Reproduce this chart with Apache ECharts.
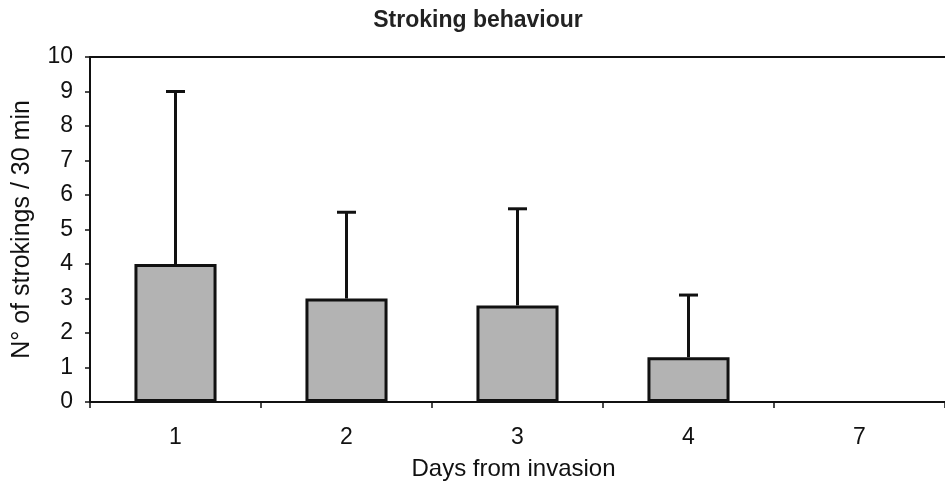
<!DOCTYPE html>
<html><head><meta charset="utf-8">
<script src="https://cdn.jsdelivr.net/npm/echarts@6/dist/echarts.min.js"></script>
<style>html,body{margin:0;padding:0;background:#fff}#c{width:945px;height:488px}</style>
</head><body><div id="c"></div>
<script>
const categories = ['1', '2', '3', '4', '7'];
const meanValues = [4, 3, 2.8, 1.3, 0];
const upperValues = [9, 5.5, 5.6, 3.1, 0];
const yTicks = [0, 1, 2, 3, 4, 5, 6, 7, 8, 9, 10];

const font = 'Liberation Sans, Arial, sans-serif';
const chart = echarts.init(document.getElementById('c'));
chart.setOption({
  animation: false,
  backgroundColor: '#fff',
  title: {
    text: 'Stroking behaviour', left: 473, top: 4, textAlign: 'center',
    textStyle: { fontFamily: font, fontWeight: 'bold', fontSize: 23, color: '#222' }
  },
  grid: { left: 90, top: 57, bottom: 86, width: 863 },
  xAxis: [{
    type: 'category', data: categories, position: 'bottom',
    axisLine: { lineStyle: { color: '#111', width: 2 } },
    axisTick: { show: true, length: 6, lineStyle: { color: '#111', width: 1.5 } },
    axisLabel: { fontFamily: font, fontSize: 23, color: '#111', margin: 24 },
    name: 'Days from invasion', nameLocation: 'middle', nameGap: 55,
    nameTextStyle: { fontFamily: font, fontSize: 24, color: '#111', padding: [0, 8, 0, 0] }
  }, {
    type: 'category', data: categories, position: 'top',
    axisLine: { lineStyle: { color: '#111', width: 2 } },
    axisTick: { show: false }, axisLabel: { show: false }
  }],
  yAxis: {
    type: 'value', min: yTicks[0], max: yTicks[yTicks.length - 1], interval: 1,
    axisLine: { show: true, lineStyle: { color: '#111', width: 2 } },
    axisTick: { show: true, length: 5, lineStyle: { color: '#111', width: 1.5 } },
    axisLabel: { fontFamily: font, fontSize: 23, color: '#111', margin: 17 },
    splitLine: { show: false },
    name: 'N° of strokings / 30 min', nameLocation: 'middle', nameGap: 55, nameRotate: 90,
    nameTextStyle: { fontFamily: font, fontSize: 25, color: '#111' }
  },
  series: [{
    type: 'bar', barWidth: '48%', z: 3,
    data: meanValues.map(v => ({ value: v, itemStyle: v === 0 ? { borderWidth: 0 } : undefined })),
    itemStyle: { color: '#b3b3b3', borderColor: '#111', borderWidth: 3 }
  }, {
    type: 'custom', z: 4,
    data: categories.map((c, i) => [i, meanValues[i], upperValues[i]]),
    renderItem: function (params, api) {
      const lo = api.coord([api.value(0), api.value(1)]);
      const hi = api.coord([api.value(0), api.value(2)]);
      if (api.value(2) <= api.value(1)) return null;
      const half = 9.5;
      const st = { stroke: '#111', lineWidth: 3 };
      return {
        type: 'group',
        children: [
          { type: 'line', shape: { x1: lo[0], y1: lo[1], x2: hi[0], y2: hi[1] }, style: st },
          { type: 'line', shape: { x1: hi[0] - half, y1: hi[1], x2: hi[0] + half, y2: hi[1] }, style: st }
        ]
      };
    }
  }]
});
</script></body></html>
